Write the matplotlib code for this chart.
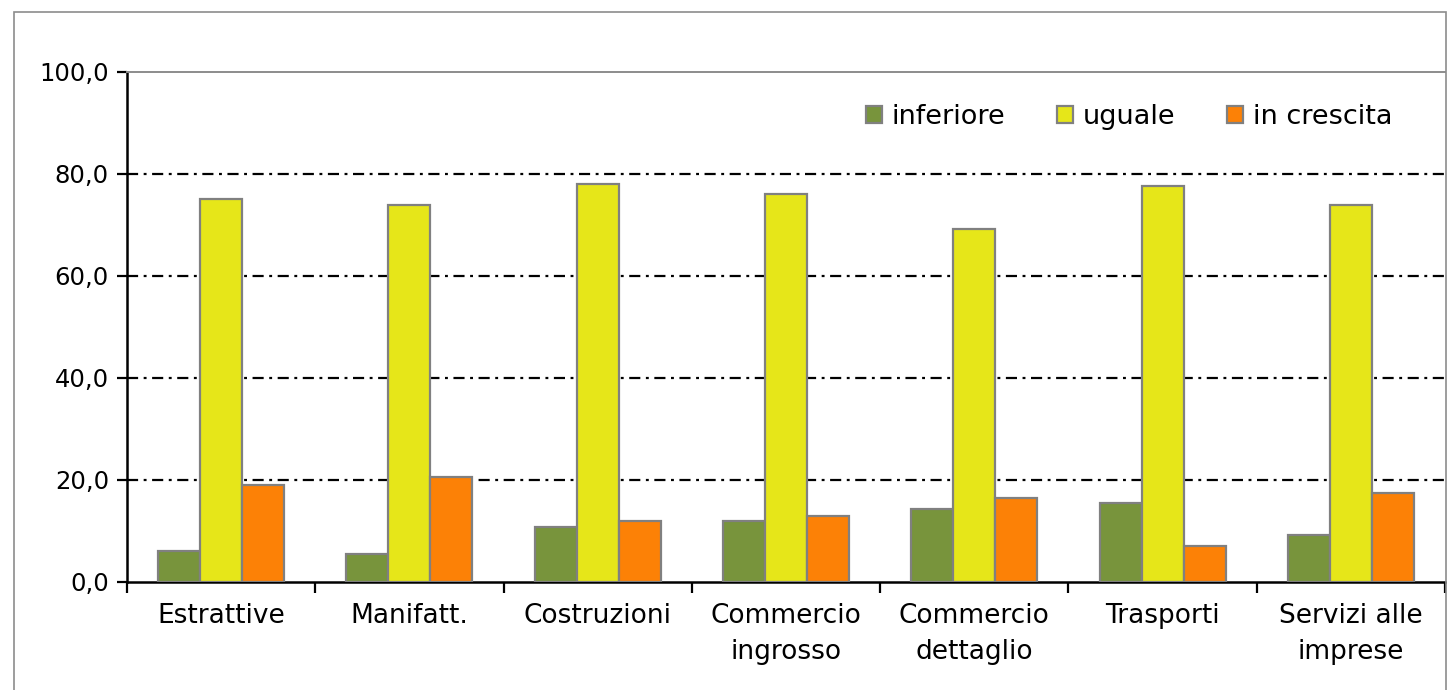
import matplotlib
matplotlib.use("Agg")
import matplotlib.pyplot as plt
import numpy as np
from matplotlib.patches import Rectangle
from matplotlib.ticker import FixedLocator, FuncFormatter

categories = ["Estrattive", "Manifatt.", "Costruzioni", "Commercio\ningrosso",
              "Commercio\ndettaglio", "Trasporti", "Servizi alle\nimprese"]
series_names = ["inferiore", "uguale", "in crescita"]
inferiore = [6.1, 5.5, 10.8, 11.9, 14.4, 15.4, 9.2]
uguale = [75.0, 74.0, 78.0, 76.0, 69.3, 77.6, 74.0]
in_crescita = [19.1, 20.5, 11.9, 12.9, 16.5, 7.1, 17.5]
yticks = [0, 20, 40, 60, 80, 100]

colors = ["#78943C", "#E6E619", "#FC8106"]

plt.rcParams['font.family'] = ['DejaVu Sans']

fig = plt.figure(figsize=(14.5, 6.9), dpi=100)
W, H = 1450, 690
ax = fig.add_axes([127 / W, 1 - 582 / H, (1445 - 127) / W, (582 - 72) / H])

# outer frame
fig.patches.append(Rectangle((14 / W, -0.05), (1445.5 - 14) / W, 1.05 - 12 / H,
                             transform=fig.transFigure, fill=False,
                             edgecolor="#8C8C8C", linewidth=1.2, zorder=0))

x = np.arange(len(categories))
bw = 0.223
for i, (vals, name) in enumerate(zip([inferiore, uguale, in_crescita], series_names)):
    ax.bar(x + (i - 1) * bw, vals, width=bw, color=colors[i], edgecolor="#808080",
           linewidth=1.6, label=name, zorder=3)

ax.set_xlim(-0.5, len(categories) - 0.5)
ax.set_ylim(0, 100)

ax.yaxis.set_major_locator(FixedLocator(yticks))
ax.yaxis.set_major_formatter(FuncFormatter(lambda v, p: f"{v:.1f}".replace(".", ",")))
ax.tick_params(axis='y', direction='out', length=7, width=1.6, labelsize=17.5, pad=6, colors='black')

ax.set_xticks(x)
ax.set_xticklabels(categories, fontsize=19, linespacing=1.5)
ax.tick_params(axis='x', which='major', length=0, pad=15)
ax.set_xticks(np.arange(-0.5, len(categories), 1.0), minor=True)
ax.tick_params(axis='x', which='minor', direction='out', length=8, width=1.6)

for gy in yticks[1:-1]:
    ax.axhline(gy, color='black', linewidth=1.6, linestyle=(0, (5, 2.5, 1.3, 2.5)), zorder=1)

ax.spines['left'].set_linewidth(1.8)
ax.spines['bottom'].set_linewidth(1.8)
ax.spines['top'].set_color('#8C8C8C')
ax.spines['top'].set_linewidth(1.4)
ax.spines['right'].set_visible(False)

leg = ax.legend(ncol=3, frameon=False, loc='center right',
                bbox_to_anchor=((1392 - 127) / (1445 - 127), (582 - 117) / 510),
                borderaxespad=0, borderpad=0, fontsize=19.5, handlelength=0.6,
                handleheight=0.6, handletextpad=0.35, columnspacing=1.9)
for h in leg.legend_handles:
    h.set_edgecolor("#808080")
    h.set_linewidth(1.6)

fig.savefig("out.png", dpi=100)
